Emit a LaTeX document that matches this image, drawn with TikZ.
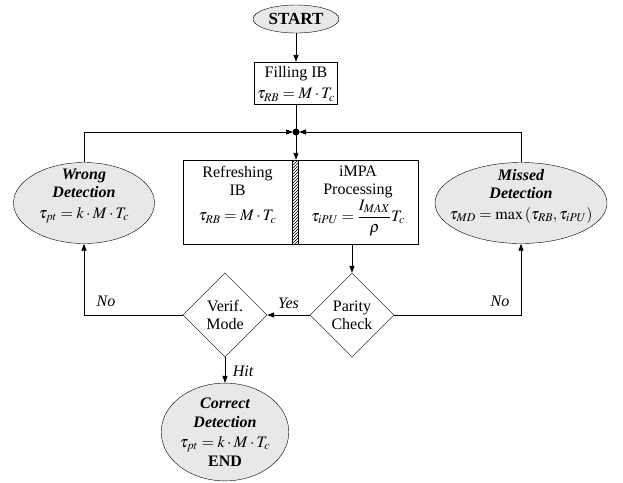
\documentclass[tikz,border=0pt]{standalone}
\usepackage{mathptmx}
\usepackage{fontspec}
\setmainfont{Liberation Serif}
\usetikzlibrary{shapes.geometric,arrows.meta,patterns}
\tikzset{
  base/.style={font=\fontsize{16}{18}\selectfont, align=center, inner sep=0pt},
  txt/.style={base},
  ell/.style={base, draw, ellipse, fill=gray!18},
  boxn/.style={base, draw, rectangle},
  dia/.style={base, draw, diamond, aspect=1},
  conn/.style={line width=0.9pt},
  arr/.style={conn, -{Triangle[length=7pt,width=5pt]}},
  lbl/.style={font=\fontsize{16}{18}\selectfont\itshape, inner sep=0pt},
}
\begin{document}
\begin{tikzpicture}[x=1pt,y=-1pt]
\useasboundingbox (0,0) rectangle (623,482);
% nodes
\node[ell, minimum width=86, minimum height=28] (start) at (296,19) {\fontsize{17}{18}\selectfont\bfseries START};
\node[boxn, minimum width=83, minimum height=42] (fill) at (296,83) {};
\node[txt] (fillt) at (296,84) {Filling IB\\[3pt] $\tau_{RB} = M\cdot T_c$};
\coordinate (jn) at (296,132);
\node[boxn, minimum width=109, minimum height=84] (refresh) at (237.5,202) {};
\node[txt] (refresht) at (237.5,195) {Refreshing\\ IB\\[7pt] $\tau_{RB} = M\cdot T_c$};
\node[draw, rectangle, pattern=north east lines, minimum width=6, minimum height=84, inner sep=0pt] (strip) at (295,202) {};
\node[boxn, minimum width=120, minimum height=84] (impa) at (358,202) {};
\node[txt] (impat) at (358,201) {iMPA\\ Processing\\[1pt] $\tau_{iPU} = {\displaystyle\frac{I_{MAX}}{\rho}}T_c$};
\node[ell, minimum width=141, minimum height=81] (wrong) at (84,203) {};
\node[txt] (wrongt) at (84,196) {\bfseries\itshape Wrong\\ \bfseries\itshape Detection\\[3pt] $\tau_{pt} = k\cdot M\cdot T_c$};
\node[ell, minimum width=172, minimum height=81] (missed) at (521,203) {};
\node[txt] (missedt) at (521,196) {\bfseries\itshape Missed\\ \bfseries\itshape Detection\\[3pt] $\tau_{MD} = \max\left(\tau_{RB},\tau_{iPU}\right)$};
\node[dia, minimum width=84, minimum height=84] (parity) at (352,315) {Parity\\ Check};
\node[dia, minimum width=84, minimum height=84] (verif) at (225,315) {Verif.\\ Mode};
\node[ell, minimum width=113, minimum height=95, font=\fontsize{16}{19.5}\selectfont] (correct) at (225,432)
  {\bfseries\itshape Correct\\ \bfseries\itshape Detection\\ $\tau_{pt} = k\cdot M\cdot T_c$\\ \bfseries END};
% connectors
\draw[arr] (start) -- (fill);
\draw[conn] (fill) -- (jn);
\fill (jn) circle (3.5);
\draw[arr] (jn) -- (jn |- refresh.north);
\draw[arr] (wrong.north) -- (wrong.north |- jn) -- ([xshift=-3pt]jn);
\draw[arr] (missed.north) -- (missed.north |- jn) -- ([xshift=3pt]jn);
\draw[arr] (parity.north |- impa.south) -- (parity.north);
\draw[arr] (parity.west) -- node[lbl, above=6pt] {Yes} (verif.east);
\draw[arr] (verif.west) -- (wrong.south |- verif.west) -- (wrong.south);
\draw[arr] (parity.east) -- (missed.south |- parity.east) -- (missed.south);
\draw[arr] (verif.south) -- (correct.north);
\node[lbl] (no1) at (106,301) {No};
\node[lbl] (no2) at (500,301) {No};
\node[lbl] (hit) at (243,371) {Hit};
\end{tikzpicture}
\end{document}
